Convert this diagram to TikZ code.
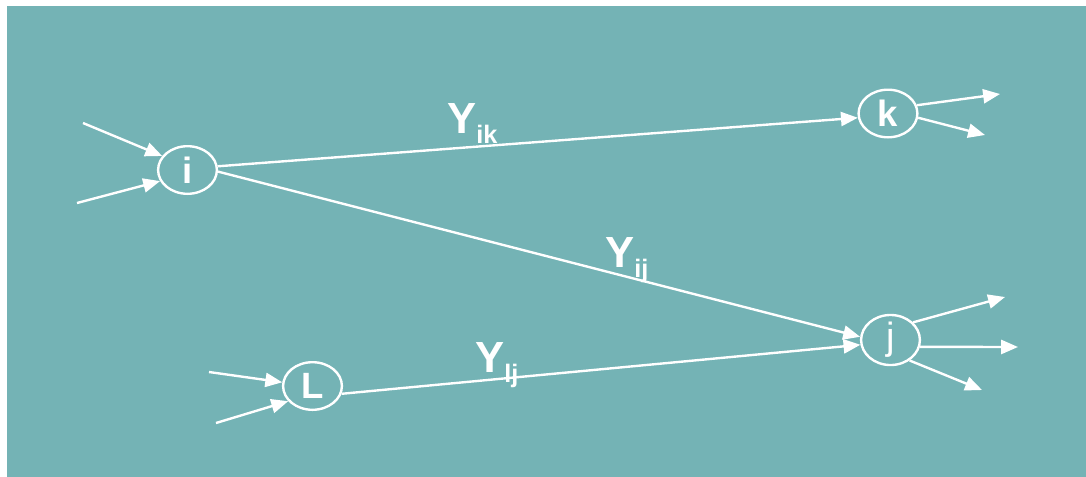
\documentclass[tikz,border=0pt]{standalone}
\usepackage{fontspec}
\setmainfont{Liberation Sans}
\usetikzlibrary{arrows.meta,shapes.geometric}
\definecolor{FlowTeal}{RGB}{116,179,181}
\newcommand{\flowsub}[1]{\raisebox{-7.2pt}{\fontsize{18}{18}\selectfont #1}}
\begin{document}
\begin{tikzpicture}[x=0.025cm,y=-0.025cm,
    every node/.style={text=white},
    state/.style={draw=white,line width=1.7pt,ellipse,
                  minimum width=1.47cm,minimum height=1.19cm,inner sep=0pt,
                  font=\fontsize{26}{26}\selectfont\bfseries},
    flow/.style={draw=white,line width=1.7pt,-{Triangle[length=12pt,width=10pt]}},
    ylab/.style={inner sep=0pt,anchor=base west,
                 font=\fontsize{31}{31}\selectfont\bfseries}]
  \useasboundingbox (0,0) rectangle (1086,476);
  \fill[white] (0,0) rectangle (1086,476);
  \fill[FlowTeal] (7,6) rectangle (1092,482);
  % nodes
  \node[state] (i) at (187.5,170) {i};
  \node[state] (k) at (888,113.5) {k};
  \node[state] (j) at (890.5,340) {\fontsize{27}{27}\selectfont\mdseries j};
  \node[state] (L) at (312.5,386) {L};
  % free ends
  \coordinate (i1) at (83,123);
  \coordinate (i2) at (77,203);
  \coordinate (l1) at (209,372);
  \coordinate (l2) at (216,423);
  \coordinate (k1) at (1000,94);
  \coordinate (k2) at (985,135);
  \coordinate (j1) at (1005,297);
  \coordinate (j2) at (1018,347);
  \coordinate (j3) at (982,390);
  % in and out
  \foreach \s/\t in {i1/i.151,i2/i.202,l1/L.173,l2/L.212}
    \draw[flow] (\s) -- (\t);
  \foreach \s/\t in {k.16/k1,k.-8/k2,j.38/j1,j.-13/j2,j.-47/j3}
    \draw[flow] (\s) -- (\t);
  % flows between nodes
  \draw[flow] (i.7) -- (k.188);
  \draw[flow] (i.-3) -- (j.174);
  \draw[flow] (L.-15) -- (j.189);
  \node[ylab] (yik) at (447,133) {Y\flowsub{ik}};
  \node[ylab] (yij) at (605,267) {Y\flowsub{ij}};
  \node[ylab] (ylj) at (475,372) {Y\flowsub{lj}};
\end{tikzpicture}
\end{document}
